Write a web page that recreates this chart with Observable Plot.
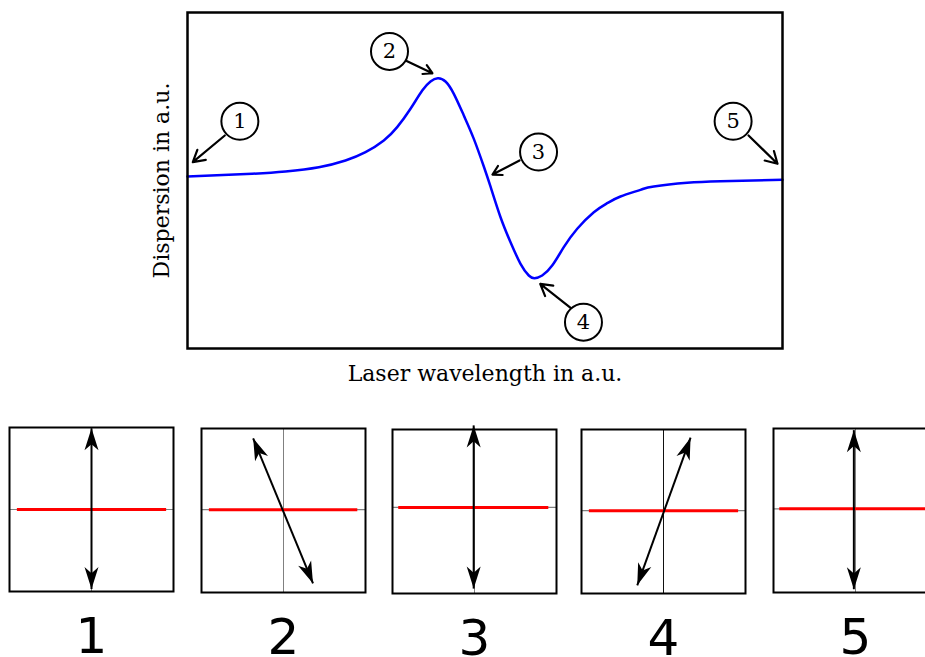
<!DOCTYPE html>
<html>
<head>
<meta charset="utf-8">
<script src="https://cdn.jsdelivr.net/npm/d3@7"></script>
<script src="https://cdn.jsdelivr.net/npm/@observablehq/plot@0.6"></script>
<style>
  html, body { margin: 0; padding: 0; background: #fff; }
  #figure { position: relative; width: 925px; height: 657px; overflow: hidden; background: #fff; }
  #figure > svg { position: absolute; }
</style>
</head>
<body>
<div id="figure"></div>
<script>
// Dispersion curve, arbitrary units (x: laser wavelength, y: dispersion)
const wavelength = [0, 10.87, 16.47, 22.07, 26.55, 29.92, 32.99, 35.24, 37.48, 39.45, 40.84, 42.07, 43.36, 44.76,
  46.44, 48.12, 49.80, 50.92, 52.61, 54.29, 55.97, 57.36, 58.32, 59.61, 61.29, 63.24, 65.50, 68.29, 70.54,
  72.77, 76.13, 78.37, 83.98, 89.58, 100];
const dispersion = [0.048, 0.080, 0.107, 0.158, 0.238, 0.337, 0.476, 0.635, 0.854, 1.071, 1.179, 1.218, 1.179, 1.032,
  0.774, 0.496, 0.167, -0.071, -0.437, -0.735, -0.992, -1.131, -1.163, -1.131, -1.012, -0.794, -0.575, -0.377, -0.270,
  -0.190, -0.111, -0.071, -0.027, -0.008, 0.008];

// Numbered callouts on the curve: badge centre and arrow from badge to curve
const calloutLabels = ["1", "2", "3", "4", "5"];
const badgeX = [8.8, 33.95, 59.0, 66.55, 91.7];
const badgeY = [0.705, 1.536, 0.339, -1.687, 0.705];
const arrowFromX = [6.27, 36.65, 55.8, 64.6, 94.29];
const arrowFromY = [0.536, 1.429, 0.238, -1.527, 0.536];
const arrowToX = [0.89, 41.16, 51.26, 59.28, 99.16];
const arrowToY = [0.218, 1.277, 0.071, -1.23, 0.199];

// Polarisation sketches for each numbered point (unit square panels, centre at 0,0)
const panelLabels = ["1", "2", "3", "4", "5"];
const axisY = [0, 0.01, 0.05, 0.01, 0.02];          // horizontal reference (red) line height
const redFrom = [-0.91, -0.91, -0.93, -0.91, -0.93];
const redTo = [0.91, 0.90, 0.90, 0.91, 0.95];
const tipTopX = [0, -0.37, -0.01, 0.33, -0.02];
const tipTopY = [0.99, 0.88, 1.05, 0.90, 0.98];
const tipBottomX = [0, 0.36, -0.01, -0.32, -0.02];
const tipBottomY = [-0.97, -0.89, -0.94, -0.90, -0.96];

const curve = wavelength.map((w, i) => ({wavelength: w, dispersion: dispersion[i]}));
const callouts = calloutLabels.map((label, i) => ({
  label, cx: badgeX[i], cy: badgeY[i],
  fromX: arrowFromX[i], fromY: arrowFromY[i], toX: arrowToX[i], toY: arrowToY[i]
}));

const fig = document.getElementById("figure");

const main = Plot.plot({
  width: 925,
  height: 400,
  marginLeft: 187,
  marginRight: 143,
  marginTop: 12,
  marginBottom: 52,
  x: {domain: [0, 100], axis: null},
  y: {domain: [-2, 2], axis: null},
  style: {fontFamily: "DejaVu Serif", background: "transparent", color: "black"},
  marks: [
    Plot.line(curve, {x: "wavelength", y: "dispersion", stroke: "#0000ff", strokeWidth: 2.5, curve: "natural"}),
    Plot.frame({stroke: "black", strokeWidth: 2.5}),
    Plot.arrow(callouts, {x1: "fromX", y1: "fromY", x2: "toX", y2: "toY", stroke: "black", strokeWidth: 2.2, headLength: 9}),
    Plot.dot(callouts, {x: "cx", y: "cy", r: 18.5, fill: "white", stroke: "black", strokeWidth: 2}),
    Plot.text(callouts, {x: "cx", y: "cy", text: "label", fontSize: 21, fill: "black", lineAnchor: "middle"}),
    Plot.text(["Dispersion in a.u."], {
      frameAnchor: "left", rotate: -90, dx: -25.5, fontSize: 22, fill: "black",
      textAnchor: "middle", lineAnchor: "middle"
    }),
    Plot.text(["Laser wavelength in a.u."], {
      frameAnchor: "bottom", dy: 25, fontSize: 22, fill: "black",
      textAnchor: "middle", lineAnchor: "middle"
    })
  ]
});
main.style.left = "0px";
main.style.top = "0px";
fig.appendChild(main);

// Stealth-style filled arrowhead, tip at the vector's end
const stealth = {
  draw(context, l, r) {
    context.moveTo(0, -l);
    context.lineTo(r, 0);
    context.lineTo(0, -0.28 * l);
    context.lineTo(-r, 0);
    context.closePath();
  }
};

const panelLeft = [9, 201, 392, 581, 773];
const panelTop = [427, 428, 429, 429, 428];
const side = 164;
const pad = 8;

panelLabels.forEach((label, i) => {
  const shaft = [{x1: tipBottomX[i], y1: tipBottomY[i], x2: tipTopX[i], y2: tipTopY[i]}];
  const heads = [
    {x: tipTopX[i], y: tipTopY[i], dx: tipTopX[i] - tipBottomX[i], dy: tipTopY[i] - tipBottomY[i]},
    {x: tipBottomX[i], y: tipBottomY[i], dx: tipBottomX[i] - tipTopX[i], dy: tipBottomY[i] - tipTopY[i]}
  ];
  const panel = Plot.plot({
    width: side + 2 * pad,
    height: side + pad + 72,
    marginTop: pad,
    marginLeft: pad,
    marginRight: pad,
    marginBottom: 72,
    x: {domain: [-1, 1], axis: null},
    y: {domain: [-1, 1], axis: null},
    style: {background: "transparent", color: "black"},
    marks: [
      Plot.ruleY([axisY[i]], {stroke: "#808080", strokeWidth: 1.2}),
      Plot.ruleX([0], {stroke: i === 3 ? "#111" : "#808080", strokeWidth: 1}),
      Plot.link([{x1: redFrom[i], x2: redTo[i], y: axisY[i]}], {x1: "x1", x2: "x2", y1: "y", y2: "y", stroke: "#ff0000", strokeWidth: 3}),
      Plot.link(shaft, {x1: "x1", y1: "y1", x2: "x2", y2: "y2", stroke: "black", strokeWidth: 2}),
      Plot.vector(heads, {
        x: "x", y: "y",
        rotate: d => Math.atan2(d.dx, d.dy) * 180 / Math.PI,
        length: 22, r: 7, shape: stealth, anchor: "end",
        fill: "black", stroke: "none"
      }),
      Plot.frame({stroke: "black", strokeWidth: 2}),
      Plot.text([label], {
        frameAnchor: "bottom", dy: 45, fontSize: 50, fontFamily: "DejaVu Sans", fill: "black",
        textAnchor: "middle", lineAnchor: "middle"
      })
    ]
  });
  panel.style.left = (panelLeft[i] - pad) + "px";
  panel.style.top = (panelTop[i] - pad) + "px";
  fig.appendChild(panel);
});
</script>
</body>
</html>
